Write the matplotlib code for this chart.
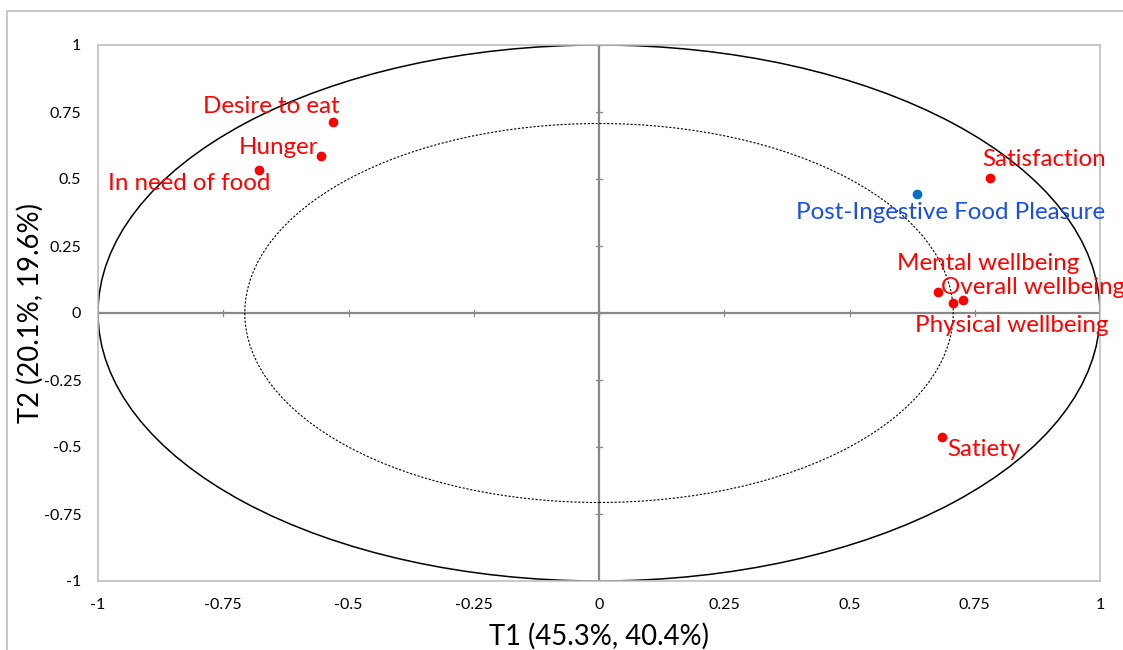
import matplotlib.pyplot as plt
import numpy as np
from matplotlib.patches import Ellipse, Rectangle

plt.rcParams['font.family'] = ['Lato', 'DejaVu Sans']

# variables on the correlation circle
labels = ["Desire to eat", "Hunger", "In need of food", "Satisfaction",
          "Post-Ingestive Food Pleasure", "Mental wellbeing", "Overall wellbeing",
          "Physical wellbeing", "Satiety"]
t1 = [-0.531, -0.555, -0.679, 0.780, 0.635, 0.677, 0.727, 0.707, 0.685]
t2 = [0.713, 0.586, 0.534, 0.504, 0.444, 0.078, 0.049, 0.037, -0.463]
kinds = ["active", "active", "active", "active", "supp", "active", "active", "active", "active"]

ticks = [-1, -0.75, -0.5, -0.25, 0, 0.25, 0.5, 0.75, 1]
tick_labels = ["-1", "-0.75", "-0.5", "-0.25", "0", "0.25", "0.5", "0.75", "1"]

# label placement (offset in pixels, ha)
place = {
    "Desire to eat": ((7, 15), "right"),
    "Hunger": ((-3, 8), "right"),
    "In need of food": ((12, -14), "right"),
    "Satisfaction": ((-8, 18), "left"),
    "Post-Ingestive Food Pleasure": ((33, -18), "center"),
    "Mental wellbeing": ((50, 29), "center"),
    "Overall wellbeing": ((-22, 12), "left"),
    "Physical wellbeing": ((58, -22), "center"),
    "Satiety": ((5, -12), "left"),
}

fig = plt.figure(figsize=(11.23, 6.5), dpi=100)
ax = fig.add_axes([98/1123, 69/650, 1002/1123, 536/650])

# outer chart border
fig.patches.append(Rectangle((7/1123, -0.1), 1.2, (650-11)/650 + 0.1,
                             transform=fig.transFigure, fill=False,
                             edgecolor="#bfbfbf", lw=1.2))

ax.set_xlim(-1, 1)
ax.set_ylim(-1, 1)

ax.add_patch(Ellipse((0, 0), 2, 2, fill=False, edgecolor="black", lw=1.1, zorder=2))
ax.add_patch(Ellipse((0, 0), 2*0.707, 2*0.707, fill=False, edgecolor="black",
                     lw=0.8, ls=(0, (2, 1.5)), zorder=2))

ax.axhline(0, color="#888888", lw=1.6, zorder=1)
ax.axvline(0, color="#888888", lw=1.6, zorder=1)
for t in ticks:
    ax.plot([t, t], [-0.012, 0.012], color="#888888", lw=0.9, zorder=1)
    ax.plot([-0.006, 0.006], [t, t], color="#888888", lw=0.9, zorder=1)

for lab, x, y, k in zip(labels, t1, t2, kinds):
    c = "#ff0000" if k == "active" else "#0070c0"
    tc = "#ff0000" if k == "active" else "#1a4fe6"
    ax.plot(x, y, "o", color=c, ms=6, zorder=3)
    off, ha = place[lab]
    ax.annotate(lab, (x, y), xytext=off, textcoords="offset pixels",
                ha=ha, va="center", color=tc, fontsize=17.4, zorder=4)

ax.set_xticks(ticks)
ax.set_xticklabels(tick_labels)
ax.set_yticks(ticks)
ax.set_yticklabels(tick_labels)
ax.tick_params(length=0, labelsize=11.5, pad=12)
for s in ax.spines.values():
    s.set_color("#bfbfbf")
    s.set_linewidth(1.2)

ax.set_xlabel("T1 (45.3%, 40.4%)", fontsize=19.8, va="center")
ax.set_ylabel("T2 (20.1%, 19.6%)", fontsize=19.8, va="center")
ax.xaxis.set_label_coords(0.5, (581 - 636) / 536)
ax.yaxis.set_label_coords((30 - 98) / 1002, 0.5)

plt.savefig("out.png", dpi=100)
